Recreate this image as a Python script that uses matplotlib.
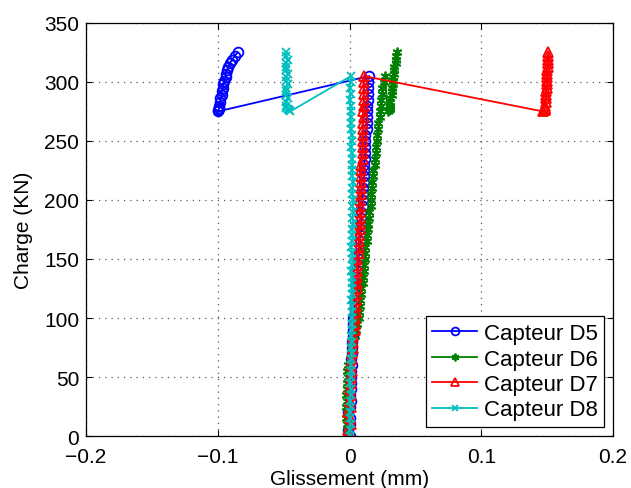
import matplotlib
matplotlib.use("Agg")
import matplotlib.pyplot as plt

# charge (KN): montée jusqu'au pic, puis chute et glissement
charge = [0, 5, 10, 15, 20, 25, 30, 35, 40, 45, 50, 55, 60, 65, 70, 75, 80, 85, 90, 95,
          100, 105, 110, 115, 120, 125, 130, 135, 140, 145, 150, 155, 160, 165, 170, 175,
          180, 185, 190, 195, 200, 205, 210, 215, 220, 225, 230, 235, 240, 245, 250, 255,
          260, 265, 270, 275, 280, 285, 290, 295, 300, 305,
          275, 276, 277, 278, 280, 283, 286, 289, 292, 295, 298, 301, 304, 307, 310, 313,
          316, 319, 322, 325]

d5 = [0.000, -0.001, 0.000, 0.000, -0.001, 0.000, 0.001, 0.000, 0.001, 0.001, 0.001, 0.001,
      0.002, 0.001, 0.002, 0.002, 0.002, 0.003, 0.003, 0.003, 0.003, 0.004, 0.004, 0.004,
      0.005, 0.005, 0.005, 0.006, 0.006, 0.007, 0.007, 0.007, 0.008, 0.008, 0.008, 0.009,
      0.009, 0.009, 0.009, 0.010, 0.010, 0.010, 0.010, 0.011, 0.011, 0.011, 0.011, 0.012,
      0.012, 0.012, 0.012, 0.012, 0.013, 0.013, 0.013, 0.013, 0.013, 0.014, 0.014, 0.014,
      0.014, 0.015,
      -0.100, -0.100, -0.099, -0.099, -0.099, -0.098, -0.098, -0.097, -0.097, -0.096,
      -0.096, -0.095, -0.094, -0.094, -0.093, -0.092, -0.091, -0.089, -0.087, -0.085]

d6 = [-0.001, -0.002, -0.002, -0.003, -0.002, -0.003, -0.002, -0.003, -0.002, -0.002,
      -0.001, -0.002, -0.001, 0.000, 0.001, 0.002, 0.003, 0.004, 0.005, 0.006, 0.007,
      0.007, 0.008, 0.008, 0.009, 0.009, 0.010, 0.010, 0.011, 0.011, 0.012, 0.012, 0.012,
      0.013, 0.013, 0.014, 0.014, 0.015, 0.015, 0.016, 0.016, 0.016, 0.017, 0.017, 0.018,
      0.018, 0.019, 0.019, 0.020, 0.020, 0.021, 0.021, 0.022, 0.022, 0.023, 0.023, 0.024,
      0.024, 0.025, 0.025, 0.026, 0.027,
      0.029, 0.030, 0.031, 0.031, 0.031, 0.031, 0.031, 0.032, 0.032, 0.032, 0.033, 0.033,
      0.033, 0.034, 0.034, 0.034, 0.035, 0.035, 0.035, 0.036]

d7 = [0.000, -0.001, 0.001, 0.000, -0.001, 0.001, 0.000, 0.001, 0.000, 0.001, 0.001,
      0.002, 0.001, 0.002, 0.002, 0.003, 0.003, 0.003, 0.004, 0.004, 0.004, 0.005, 0.005,
      0.005, 0.005, 0.006, 0.006, 0.006, 0.006, 0.006, 0.006, 0.007, 0.007, 0.007, 0.007,
      0.008, 0.008, 0.008, 0.008, 0.008, 0.008, 0.009, 0.009, 0.009, 0.009, 0.009, 0.009,
      0.010, 0.010, 0.010, 0.010, 0.010, 0.010, 0.010, 0.011, 0.010, 0.011, 0.011, 0.011,
      0.011, 0.011, 0.011,
      0.147, 0.148, 0.148, 0.148, 0.148, 0.149, 0.149, 0.149, 0.149, 0.150, 0.150, 0.150,
      0.150, 0.150, 0.150, 0.151, 0.151, 0.151, 0.151, 0.151]

d8 = [0.000, 0.000, 0.001, 0.000, 0.000, 0.001, 0.000, 0.001, 0.001, 0.000, 0.001, 0.001,
      0.001, 0.001, 0.002, 0.001, 0.002, 0.001, 0.002, 0.002, 0.002, 0.002, 0.002, 0.001,
      0.002, 0.002, 0.002, 0.002, 0.001, 0.002, 0.002, 0.002, 0.001, 0.002, 0.002, 0.002,
      0.003, 0.002, 0.003, 0.002, 0.003, 0.002, 0.002, 0.003, 0.002, 0.002, 0.002, 0.002,
      0.002, 0.001, 0.002, 0.002, 0.001, 0.001, 0.001, 0.001, 0.001, 0.000, 0.001, 0.000,
      0.001, 0.001,
      -0.045, -0.046, -0.047, -0.048, -0.048, -0.048, -0.047, -0.048, -0.048, -0.048,
      -0.047, -0.048, -0.048, -0.047, -0.048, -0.048, -0.048, -0.047, -0.048, -0.048]

labels = ["Capteur D5", "Capteur D6", "Capteur D7", "Capteur D8"]
xticks = [-0.2, -0.1, 0, 0.1, 0.2]
yticks = [0, 50, 100, 150, 200, 250, 300, 350]

plt.rcParams['font.family'] = ['Liberation Sans', 'DejaVu Sans']
plt.rcParams['font.size'] = 15

fig = plt.figure(figsize=(6.31, 4.89), dpi=100)
ax = fig.add_axes([0.1363, 0.1063, 0.8352, 0.8447])

asterisk = (6, 2, 0)
ax.plot(d5, charge, color=(0, 0, 1), lw=1.3, marker='o', mfc='none', ms=7, mew=1.3, label=labels[0])
ax.plot(d6, charge, color=(0, 0.5, 0), lw=1.3, marker=asterisk, ms=7, mew=1.3, label=labels[1])
ax.plot(d7, charge, color=(1, 0, 0), lw=1.3, marker='^', mfc='none', ms=7, mew=1.3, label=labels[2])
ax.plot(d8, charge, color=(0, 0.75, 0.75), lw=1.3, marker='x', ms=6, mew=1.3, label=labels[3])

ax.set_xlim(-0.2, 0.2)
ax.set_ylim(0, 350)
ax.set_xticks(xticks)
ax.set_xticklabels(["\u22120.2", "\u22120.1", "0", "0.1", "0.2"])
ax.set_yticks(yticks)
ax.tick_params(direction='in', top=True, right=True, length=4, width=0.8)
ax.tick_params(axis='x', pad=8)
ax.tick_params(axis='y', pad=5)
ax.grid(True, linestyle=(0, (1, 4)), color='0.35', lw=0.9)
for s in ax.spines.values():
    s.set_linewidth(0.9)

ax.set_xlabel("Glissement (mm)", labelpad=2)
ax.set_ylabel("Charge (KN)", labelpad=8)

leg = ax.legend(loc='lower right', fancybox=False, edgecolor='black', framealpha=1,
                fontsize=16, borderpad=0.3, labelspacing=0.2, handlelength=2.0,
                handletextpad=0.3, borderaxespad=0.4, markerscale=0.8)
leg.get_frame().set_linewidth(0.9)

fig.savefig("out.png", dpi=100)
